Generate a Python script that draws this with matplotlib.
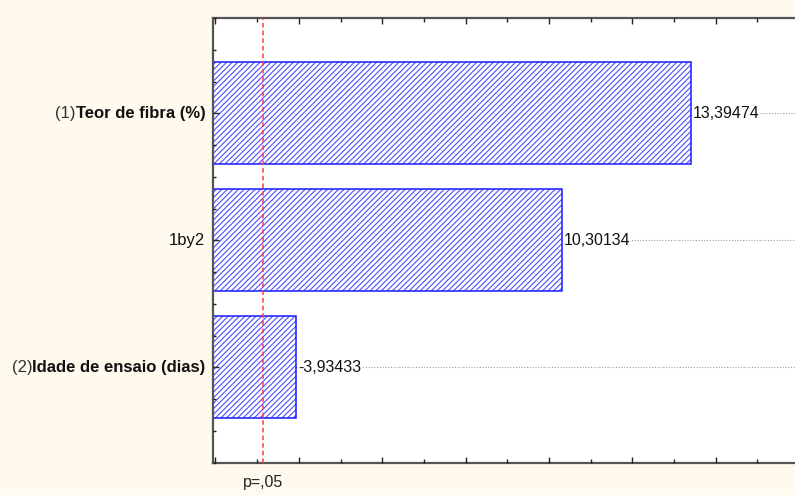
import matplotlib
matplotlib.use("Agg")
import matplotlib.pyplot as plt
import matplotlib.transforms as mtrans
from matplotlib.ticker import MultipleLocator

# Data (standardized effects, Pareto chart)
prefixes = ["(1)", "", "(2)"]
names = ["Teor de fibra (%)", "1by2", "Idade de ensaio (dias)"]
bold_flags = [True, False, True]
effects = [13.39474, 10.30134, -3.93433]
value_labels = ["13,39474", "10,30134", "-3,93433"]
p_crit = 3.14
p_label = "p=,05"

plt.rcParams['font.family'] = ['Liberation Sans', 'DejaVu Sans']
plt.rcParams['hatch.linewidth'] = 0.8

bg = '#FFF9EE'
FS = 11.5
FS_CAT = 12
fig = plt.figure(figsize=(7.95, 4.95), dpi=100, facecolor=bg)
ax = fig.add_axes([212.5/795, 1 - 462.5/495, 1 - 212.5/795, (462.5 - 18)/495])
ax.set_facecolor('white')
ax.set_axisbelow(False)

ypos = list(range(len(effects)))
abs_eff = [abs(v) for v in effects]
# hatch layer (lighter blue) + outline layer
ax.barh(ypos, abs_eff, height=0.8, left=0, color='white', edgecolor='#4d4dff',
        hatch='//////', linewidth=0, zorder=2)
ax.barh(ypos, abs_eff, height=0.8, left=0, fill=False, edgecolor='#1a1aff',
        linewidth=1.1, zorder=2.1)

xmin, xmax = 1.93, 15.9
ax.set_xlim(xmin, xmax)
ax.set_ylim(2.75, -0.75)

# dotted guide lines and value labels
for y, v, lab in zip(ypos, abs_eff, value_labels):
    ax.plot([v, xmax], [y, y], color='#a0a0a0', lw=0.8, linestyle=(0, (1, 1.5)), zorder=1)
    ax.text(v + 0.06, y, lab, ha='left', va='center', fontsize=FS, color='#111111',
            bbox=dict(facecolor='white', edgecolor='none', pad=0.5), zorder=3)

# p=.05 line
ax.axvline(p_crit, color='#ff3b3b', lw=1.1, linestyle=(0, (3, 2)), zorder=4)
ax.text(p_crit, -0.028, p_label, transform=ax.get_xaxis_transform(), ha='center', va='top',
        fontsize=FS, color='#222222')

# ticks
ax.xaxis.set_major_locator(MultipleLocator(2))
ax.xaxis.set_minor_locator(MultipleLocator(1))
ax.tick_params(axis='x', which='both', direction='in', top=True, bottom=True,
               labelbottom=False, color='#222222')
ax.tick_params(axis='x', which='major', length=4, width=1)
ax.tick_params(axis='x', which='minor', length=3, width=1)
ax.yaxis.set_major_locator(MultipleLocator(1))
ax.yaxis.set_minor_locator(MultipleLocator(0.25))
ax.tick_params(axis='y', which='both', direction='in', left=True, right=False,
               labelleft=False, color='#222222')
ax.tick_params(axis='y', which='major', length=4, width=1)
ax.tick_params(axis='y', which='minor', length=2.5, width=1)

for s in ['left', 'bottom', 'top']:
    ax.spines[s].set_color('#555555')
    ax.spines[s].set_linewidth(1.6)
ax.spines['right'].set_visible(False)

# category labels: regular prefix + bold name
fig.canvas.draw()
renderer = fig.canvas.get_renderer()
tr = mtrans.blended_transform_factory(mtrans.IdentityTransform(), ax.transData)
x_right = ax.transAxes.transform((0, 0))[0] - 7
for y, pre, name, b in zip(ypos, prefixes, names, bold_flags):
    t = ax.text(x_right, y, name, transform=tr, ha='right', va='center', fontsize=FS_CAT,
                fontweight='bold' if b else 'normal', color='#111111')
    if pre:
        bb = t.get_window_extent(renderer=renderer)
        ax.text(bb.x0, y, pre, transform=tr, ha='right', va='center', fontsize=FS_CAT,
                color='#333333')

fig.savefig('out.png', dpi=100, facecolor=bg)
